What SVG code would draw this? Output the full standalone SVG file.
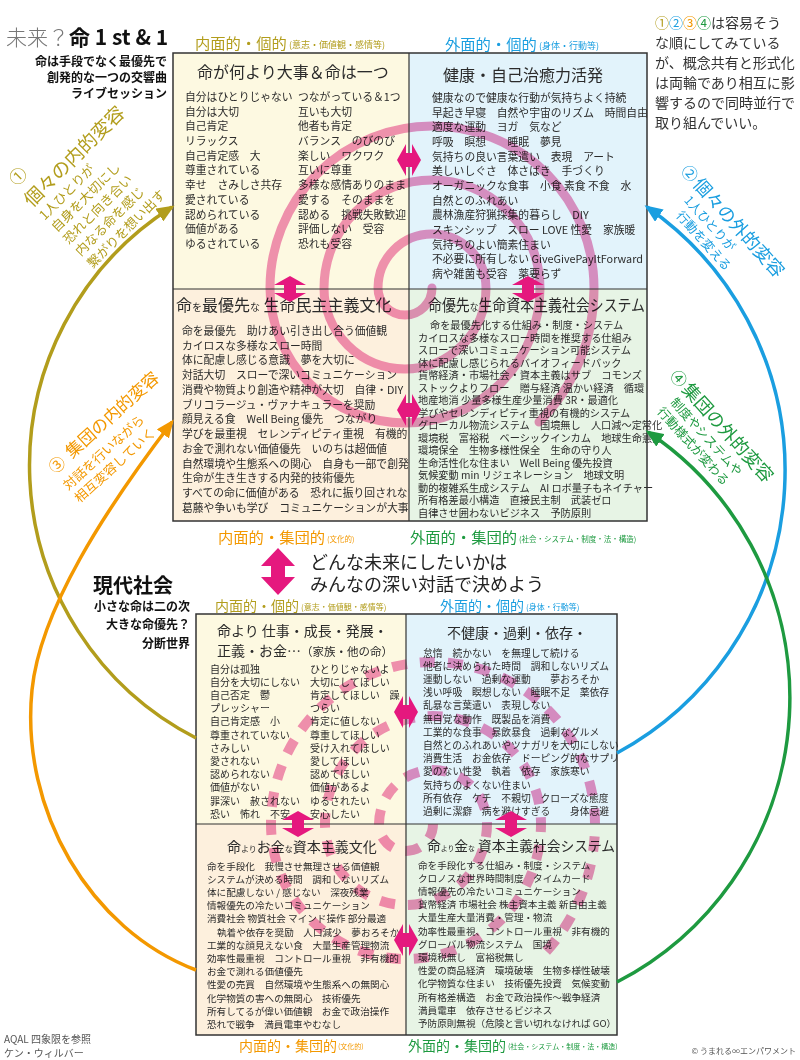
<svg xmlns="http://www.w3.org/2000/svg" width="800" height="1060" viewBox="0 0 800 1060">
<style>
text{font-family:"Noto Sans CJK JP","Noto Sans",sans-serif;}
.b{fill:#2b2b2b}
.olive{fill:#b29d1c}
.blue{fill:#1a9ee0}
.orange{fill:#f39800}
.green{fill:#1e9a40}
.gray{fill:#555}
.grid{fill:none;stroke:#333;stroke-width:1.5}
.div{stroke:#333;stroke-width:1.2}
.c1{fill:#fdf9e1}.c2{fill:#e2f3fb}.c3{fill:#fdf0dd}.c4{fill:#e7f4e5}
.spS{fill:none;stroke:#ee82b8;stroke-width:9;stroke-linecap:round;mix-blend-mode:multiply;opacity:.85}
.spD{fill:none;stroke:#ef86bb;stroke-width:10;stroke-dasharray:15 13;mix-blend-mode:multiply;opacity:.9}
.pk{fill:#e5187e}
.ax{font-size:15.3px}
.axs{font-size:14px}
</style>
<defs>
<path id="sp" d="M432,288 A27,27 0 0 1 378,288 A54,54 0 0 1 486,288 A81,81 0 0 1 324,288 A108,108 0 0 1 540,288 A135,135 0 0 1 270,288 A162,162 0 0 1 594,288 A189,189 0 0 1 539,422"/>
<polygon id="dh" points="-12,0 -3,-16 -3,-7 3,-7 3,-16 12,0 3,16 3,7 -3,7 -3,16"/>
<polygon id="dv" points="0,-13 16,-4 6,-4 6,4 16,4 0,13 -16,4 -6,4 -6,-4 -16,-4"/>
<marker id="mO" viewBox="0 0 18 15" refX="15" refY="7.5" markerWidth="18" markerHeight="15" markerUnits="userSpaceOnUse" orient="auto"><path d="M0,0L18,7.5L0,15z" fill="#b29d1c"/></marker>
<marker id="mR" viewBox="0 0 18 15" refX="15" refY="7.5" markerWidth="18" markerHeight="15" markerUnits="userSpaceOnUse" orient="auto"><path d="M0,0L18,7.5L0,15z" fill="#f39800"/></marker>
<marker id="mB" viewBox="0 0 18 15" refX="15" refY="7.5" markerWidth="18" markerHeight="15" markerUnits="userSpaceOnUse" orient="auto"><path d="M0,0L18,7.5L0,15z" fill="#1a9ee0"/></marker>
<marker id="mG" viewBox="0 0 18 15" refX="15" refY="7.5" markerWidth="18" markerHeight="15" markerUnits="userSpaceOnUse" orient="auto"><path d="M0,0L18,7.5L0,15z" fill="#1e9a40"/></marker>
</defs>
<rect width="800" height="1060" fill="#fff"/>

<!-- Title block -->
<g id="title">
<text x="6" y="45" font-size="21"><tspan fill="#777" font-weight="300">未来？</tspan><tspan fill="#111" font-weight="700">命 1 st &amp; 1</tspan></text>
<text text-anchor="end" font-size="12" font-weight="700" fill="#111"><tspan x="167" y="66">命は手段でなく最優先で</tspan><tspan x="167" y="82">創発的な一つの交響曲</tspan><tspan x="167" y="98">ライブセッション</tspan></text>
</g>

<g id="note" font-size="14" fill="#333">
<text x="655" y="28"><tspan class="olive">①</tspan><tspan class="blue">②</tspan><tspan class="orange">③</tspan><tspan class="green">④</tspan><tspan fill="#333">は容易そう</tspan></text>
<text x="655" y="48">な順にしてみている</text>
<text x="655" y="68">が、概念共有と形式化</text>
<text x="655" y="88">は両輪であり相互に影</text>
<text x="655" y="108">響するので同時並行で</text>
<text x="655" y="128">取り組んでいい。</text>
</g>

<!-- Axis labels top -->
<g id="labels-top">
<text x="195" y="49" class="olive ax">内面的・個的</text><text x="289" y="48" class="olive" font-size="9">(意志・価値観・感情等)</text>
<text x="445" y="50" class="blue ax">外面的・個的</text><text x="539" y="49" class="blue" font-size="9">(身体・行動等)</text>
<text x="218" y="543" class="orange ax">内面的・集団的</text><text x="327" y="542" class="orange" font-size="7.5">(文化的)</text>
<text x="410" y="543" class="green ax">外面的・集団的</text><text x="519" y="542" class="green" font-size="7.5">(社会・システム・制度・法・構造)</text>
</g>

<!-- Top grid quadrants -->
<g id="q-top-tl">
<rect x="173" y="53" width="236" height="236" class="c1"/>
<text x="197" y="78" font-size="16" class="b">命が何より大事＆命は一つ</text>
<text class="b" font-size="10.8"><tspan x="185" y="101">自分はひとりじゃない</tspan><tspan x="185" y="116">自分は大切</tspan><tspan x="185" y="130">自己肯定</tspan><tspan x="185" y="145">リラックス</tspan><tspan x="185" y="160">自己肯定感　大</tspan><tspan x="185" y="174">尊重されている</tspan><tspan x="185" y="189">幸せ　さみしさ共存</tspan><tspan x="185" y="204">愛されている</tspan><tspan x="185" y="219">認められている</tspan><tspan x="185" y="233">価値がある</tspan><tspan x="185" y="248">ゆるされている</tspan></text>
<text class="b" font-size="10.8"><tspan x="298" y="101">つながっている＆1つ</tspan><tspan x="298" y="116">互いも大切</tspan><tspan x="298" y="130">他者も肯定</tspan><tspan x="298" y="145">バランス　のびのび</tspan><tspan x="298" y="160">楽しい　ワクワク</tspan><tspan x="298" y="174">互いに尊重</tspan><tspan x="298" y="189">多様な感情ありのまま</tspan><tspan x="298" y="204">愛する　そのままを</tspan><tspan x="298" y="219">認める　挑戦失敗歓迎</tspan><tspan x="298" y="233">評価しない　受容</tspan><tspan x="298" y="248">恐れも受容</tspan></text>
</g>

<g id="q-top-tr">
<rect x="409" y="53" width="238" height="236" class="c2"/>
<text x="443" y="81" font-size="16" class="b">健康・自己治癒力活発</text>
<text class="b" font-size="10.8"><tspan x="432" y="102">健康なので健康な行動が気持ちよく持続</tspan><tspan x="432" y="117">早起き早寝　自然や宇宙のリズム　時間自由</tspan><tspan x="432" y="131">適度な運動　ヨガ　気など</tspan><tspan x="432" y="146">呼吸　瞑想　　睡眠　夢見</tspan><tspan x="432" y="161">気持ちの良い言葉遣い　表現　アート</tspan><tspan x="432" y="175">美しいしぐさ　体さばき　手づくり</tspan><tspan x="432" y="190">オーガニックな食事　小食 素食 不食　水</tspan><tspan x="432" y="205">自然とのふれあい</tspan><tspan x="432" y="219">農林漁産狩猟採集的暮らし　DIY</tspan><tspan x="432" y="234">スキンシップ　スロー LOVE 性愛　家族暖</tspan><tspan x="432" y="249">気持ちのよい簡素住まい</tspan><tspan x="432" y="263">不必要に所有しない GiveGivePayItForward</tspan><tspan x="432" y="278">病や雑菌も受容　薬要らず</tspan></text>
</g>

<g id="q-top-bl">
<rect x="173" y="289" width="236" height="232" class="c3"/>
<text x="176" y="311" class="b"><tspan font-size="16">命</tspan><tspan font-size="10">を</tspan><tspan font-size="16">最優先</tspan><tspan font-size="10">な</tspan><tspan font-size="16"> 生命民主主義文化</tspan></text>
<text class="b" font-size="10.8"><tspan x="182" y="335">命を最優先　助けあい引き出し合う価値観</tspan><tspan x="182" y="350">カイロスな多様なスロー時間</tspan><tspan x="182" y="364">体に配慮し感じる意識　夢を大切に</tspan><tspan x="182" y="379">対話大切　スローで深いコミュニケーション</tspan><tspan x="182" y="394">消費や物質より創造や精神が大切　自律・DIY</tspan><tspan x="182" y="409">ブリコラージュ・ヴァナキュラーを奨励</tspan><tspan x="182" y="423">顔見える食　Well Being 優先　つながり</tspan><tspan x="182" y="438">学びを最重視　セレンディピティ重視　有機的</tspan><tspan x="182" y="453">お金で測れない価値優先　いのちは超価値</tspan><tspan x="182" y="468">自然環境や生態系への関心　自身も一部で創発</tspan><tspan x="182" y="482">生命が生き生きする内発的技術優先</tspan><tspan x="182" y="497">すべての命に価値がある　恐れに振り回されない</tspan><tspan x="182" y="512">葛藤や争いも学び　コミュニケーションが大事</tspan></text>
</g>

<g id="q-top-br">
<rect x="409" y="289" width="238" height="232" class="c4"/>
<text x="428" y="311" class="b" textLength="217" lengthAdjust="spacingAndGlyphs"><tspan font-size="16">命優先</tspan><tspan font-size="10">な</tspan><tspan font-size="16">生命資本主義社会システム</tspan></text>
<text class="b" font-size="10.2"><tspan x="430" y="329">命を最優先化する仕組み・制度・システム</tspan><tspan x="418" y="342">カイロスな多様なスロー時間を推奨する仕組み</tspan><tspan x="418" y="354">スローで深いコミュニケーション可能システム</tspan><tspan x="418" y="367">体に配慮し感じられるバイオフィードバック</tspan><tspan x="418" y="379">貨幣経済・市場社会・資本主義はサブ　コモンズ</tspan><tspan x="418" y="392">ストックよりフロー　贈与経済 温かい経済　循環</tspan><tspan x="418" y="404">地産地消 少量多様生産少量消費 3R・最適化</tspan><tspan x="418" y="417">学びやセレンディピティ重視の有機的システム</tspan><tspan x="418" y="429">グローカル物流システム　国境無し　人口減〜定常化</tspan><tspan x="418" y="442">環境税　富裕税　ベーシックインカム　地球生命憲法</tspan><tspan x="418" y="454">環境保全　生物多様性保全　生命の守り人</tspan><tspan x="418" y="467">生命活性化な住まい　Well Being 優先投資</tspan><tspan x="418" y="479">気候変動 min リジェネレーション　地球文明</tspan><tspan x="418" y="492">動的複雑系生成システム　AI ロボ量子もネイチャー</tspan><tspan x="418" y="504">所有格差最小構造　直接民主制　武装ゼロ</tspan><tspan x="418" y="517">自律させ囲わないビジネス　予防原則</tspan></text>
</g>

<g id="spiral-top"><use href="#sp" class="spS"/></g>
<g id="grid-top"><rect x="173" y="53" width="474" height="468" class="grid"/><line x1="409" y1="53" x2="409" y2="521" class="div"/><line x1="173" y1="289" x2="647" y2="289" class="div"/></g>

<!-- Middle -->
<g id="middle-text">
<text x="310" y="569" font-size="18" fill="#222">どんな未来にしたいかは</text>
<text x="310" y="591" font-size="18" fill="#222">みんなの深い対話で決めよう</text>
</g>
<g id="modern">
<text x="173" y="593" text-anchor="end" font-size="20" font-weight="700" fill="#111">現代社会</text>
<text text-anchor="end" font-size="12" font-weight="700" fill="#111"><tspan x="190" y="611">小さな命は二の次</tspan><tspan x="190" y="629">大きな命優先？</tspan><tspan x="190" y="648">分断世界</tspan></text>
</g>

<!-- Axis labels bottom -->
<g id="labels-bottom">
<text x="215" y="611" class="olive axs">内面的・個的</text><text x="301" y="610" class="olive" font-size="8">(意志・価値観・感情等)</text>
<text x="440" y="611" class="blue axs">外面的・個的</text><text x="526" y="610" class="blue" font-size="8">(身体・行動等)</text>
<text x="239" y="1051" class="orange axs">内面的・集団的</text><text x="338" y="1049" class="orange" font-size="7">(文化的)</text>
<text x="408" y="1051" class="green axs">外面的・集団的</text><text x="508" y="1049" class="green" font-size="7">(社会・システム・制度・法・構造)</text>
</g>

<!-- Lower grid quadrants -->
<g id="q-low-tl">
<rect x="196" y="614" width="210" height="210" class="c1"/>
<text x="217" y="636" font-size="14" class="b">命より 仕事・成長・発展・</text>
<text x="217" y="656" class="b"><tspan font-size="14">正義・お金…</tspan><tspan font-size="11.5">（家族・他の命）</tspan></text>
<text class="b" font-size="10"><tspan x="210" y="672.5">自分は孤独</tspan><tspan x="210" y="685.7">自分を大切にしない</tspan><tspan x="210" y="698.9">自己否定　鬱</tspan><tspan x="210" y="712.1">プレッシャー</tspan><tspan x="210" y="725.3">自己肯定感　小</tspan><tspan x="210" y="738.5">尊重されていない</tspan><tspan x="210" y="751.7">さみしい</tspan><tspan x="210" y="764.9">愛されない</tspan><tspan x="210" y="778.1">認められない</tspan><tspan x="210" y="791.3">価値がない</tspan><tspan x="210" y="804.5">罪深い　赦されない</tspan><tspan x="210" y="817.7">恐い　怖れ　不安</tspan></text>
<text class="b" font-size="10"><tspan x="310" y="672.5">ひとりじゃないよ</tspan><tspan x="310" y="685.7">大切にしてほしい</tspan><tspan x="310" y="698.9">肯定してほしい　躁</tspan><tspan x="310" y="712.1">つらい</tspan><tspan x="310" y="725.3">肯定に値しない</tspan><tspan x="310" y="738.5">尊重してほしい</tspan><tspan x="310" y="751.7">受け入れてほしい</tspan><tspan x="310" y="764.9">愛してほしい</tspan><tspan x="310" y="778.1">認めてほしい</tspan><tspan x="310" y="791.3">価値があるよ</tspan><tspan x="310" y="804.5">ゆるされたい</tspan><tspan x="310" y="817.7">安心したい</tspan></text>
</g>

<g id="q-low-tr">
<rect x="406" y="614" width="211" height="210" class="c2"/>
<text x="447" y="638" font-size="14" class="b">不健康・過剰・依存・</text>
<text class="b" font-size="9.8"><tspan x="423" y="656.5">怠惰　続かない　を無理して続ける</tspan><tspan x="423" y="669.7">他者に決められた時間　調和しないリズム</tspan><tspan x="423" y="682.9">運動しない　過剰な運動　　夢おろそか</tspan><tspan x="423" y="696.1">浅い呼吸　瞑想しない　睡眠不足　薬依存</tspan><tspan x="423" y="709.3">乱暴な言葉遣い　表現しない</tspan><tspan x="423" y="722.5">無自覚な動作　既製品を消費</tspan><tspan x="423" y="735.7">工業的な食事　暴飲暴食　過剰なグルメ</tspan><tspan x="423" y="748.9">自然とのふれあいやツナガリを大切にしない</tspan><tspan x="423" y="762.1">消費生活　お金依存　ドーピング的なサプリ</tspan><tspan x="423" y="775.3">愛のない性愛　執着　依存　家族寒い</tspan><tspan x="423" y="788.5">気持ちのよくない住まい</tspan><tspan x="423" y="801.7">所有依存　ケチ　不親切　クローズな態度</tspan><tspan x="423" y="814.9">過剰に潔癖　病を避けすぎる　　身体忌避</tspan></text>
</g>

<g id="q-low-bl">
<rect x="196" y="824" width="210" height="211" class="c3"/>
<text x="227" y="852" class="b"><tspan font-size="14">命</tspan><tspan font-size="8">より</tspan><tspan font-size="14">お金</tspan><tspan font-size="8">な</tspan><tspan font-size="14">資本主義文化</tspan></text>
<text class="b" font-size="9.6"><tspan x="207" y="869.5">命を手段化　我慢させ無理させる価値観</tspan><tspan x="207" y="882.7">システムが決める時間　調和しないリズム</tspan><tspan x="207" y="895.9">体に配慮しない / 感じない　深夜残業</tspan><tspan x="207" y="909.1">情報優先の冷たいコミュニケーション</tspan><tspan x="207" y="922.3">消費社会 物質社会 マインド操作 部分最適</tspan><tspan x="217" y="935.5">執着や依存を奨励　人口減少　夢おろそか</tspan><tspan x="207" y="948.7">工業的な顔見えない食　大量生産管理物流</tspan><tspan x="207" y="961.9">効率性最重視　コントロール重視　非有機的</tspan><tspan x="207" y="975.1">お金で測れる価値優先</tspan><tspan x="207" y="988.3">性愛の売買　自然環境や生態系への無関心</tspan><tspan x="207" y="1001.5">化学物質の害への無関心　技術優先</tspan><tspan x="207" y="1014.7">所有してるが偉い価値観　お金で政治操作</tspan><tspan x="207" y="1027.9">恐れで戦争　満員電車やむなし</tspan></text>
</g>

<g id="q-low-br">
<rect x="406" y="824" width="211" height="211" class="c4"/>
<text x="427" y="851" class="b" textLength="188" lengthAdjust="spacingAndGlyphs"><tspan font-size="14">命</tspan><tspan font-size="7">より</tspan><tspan font-size="14">金</tspan><tspan font-size="7">な</tspan><tspan font-size="14"> 資本主義社会システム</tspan></text>
<text class="b" font-size="9.6"><tspan x="418" y="868.5">命を手段化する仕組み・制度・システム</tspan><tspan x="418" y="881.7">クロノスな世界時間制度　タイムカード</tspan><tspan x="418" y="894.9">情報優先の冷たいコミュニケーション</tspan><tspan x="418" y="908.1">貨幣経済 市場社会 株主資本主義 新自由主義</tspan><tspan x="418" y="921.3">大量生産大量消費・管理・物流</tspan><tspan x="418" y="934.5">効率性最重視、コントロール重視　非有機的</tspan><tspan x="418" y="947.7">グローバル物流システム　国境</tspan><tspan x="418" y="960.9">環境税無し　富裕税無し</tspan><tspan x="418" y="974.1">性愛の商品経済　環境破壊　生物多様性破壊</tspan><tspan x="418" y="987.3">化学物質な住まい　技術優先投資　気候変動</tspan><tspan x="418" y="1000.5">所有格差構造　お金で政治操作〜戦争経済</tspan><tspan x="418" y="1013.7">満員電車　依存させるビジネス</tspan><tspan x="418" y="1026.9">予防原則無視（危険と言い切れなければ GO）</tspan></text>
</g>

<g id="spiral-bottom"><use href="#sp" class="spD" transform="translate(1,536)"/></g>
<g id="grid-bottom"><rect x="196" y="614" width="421" height="421" class="grid"/><line x1="406" y1="614" x2="406" y2="1035" class="div"/><line x1="196" y1="824" x2="617" y2="824" class="div"/></g>

<!-- Side labels -->
<g id="n-olive" class="olive" transform="translate(32,208) rotate(-45)">
<text x="4" y="-26" font-size="17">①</text>
<text x="0" y="0" font-size="19">個々の内的変容</text>
<text font-size="13"><tspan x="0" y="18">1人ひとりが</tspan><tspan x="0" y="35">自身を大切にし</tspan><tspan x="0" y="52">恐れと向き合い</tspan><tspan x="0" y="69">内なる命を感じ</tspan><tspan x="0" y="86">繋がりを想い出す</tspan></text>
</g>
<g id="n-orange" class="orange" transform="translate(72,459) rotate(-42)">
<text x="-23" y="0" font-size="16">③</text>
<text x="0" y="0" font-size="17">集団の内的変容</text>
<text font-size="13"><tspan x="-24" y="21">対話を行いながら</tspan><tspan x="-24" y="38">相互変容していく</tspan></text>
</g>
<g id="n-blue" class="blue" transform="translate(692,185) rotate(48)">
<text x="-18" y="0" font-size="16">②</text>
<text x="0" y="0" font-size="18">個々の外的変容</text>
<text font-size="12.5"><tspan x="6" y="17">1人ひとりが</tspan><tspan x="12" y="33">行動を変える</tspan></text>
</g>
<g id="n-green" class="green" transform="translate(681,390) rotate(48)">
<text x="-18" y="0" font-size="16">④</text>
<text x="0" y="0" font-size="18">集団の外的変容</text>
<text font-size="12.5"><tspan x="2" y="17">制度やシステムや</tspan><tspan x="0" y="33">行動様式が変わる</tspan></text>
</g>

<!-- Connectors -->
<g id="connectors">
<g fill="none" stroke-width="3.5">
<path d="M196,738 A306,306 0 0 1 172,207" stroke="#b29d1c" marker-end="url(#mO)"/>
<path d="M196,970 C90,930 20,810 32,690 C40,610 105,510 172,422" stroke="#f39800" marker-end="url(#mR)"/>
<path d="M617,753 A321,321 0 0 0 647,207" stroke="#1a9ee0" marker-end="url(#mB)"/>
<path d="M617,982 A320,320 0 0 0 648,432" stroke="#1e9a40" marker-end="url(#mG)"/>
</g>
<g class="pk">
<use href="#dh" x="409" y="160"/>
<use href="#dh" x="409" y="410"/>
<use href="#dv" x="290" y="289"/>
<use href="#dv" x="528" y="289"/>
<use href="#dh" x="406" y="712"/>
<use href="#dh" x="406" y="940"/>
<use href="#dv" x="298" y="824"/>
<use href="#dv" x="511" y="824"/>
<polygon points="278,548 295,566 285,566 285,577 295,577 278,595 261,577 271,577 271,566 261,566"/>
</g>
</g>

<g id="footer">
<text x="4" y="1043" font-size="10" class="gray">AQAL 四象限を参照</text>
<text x="4" y="1057" font-size="10" class="gray">ケン・ウィルバー</text>
<text x="796" y="1054" font-size="8" class="gray" text-anchor="end">© うまれる∞エンパワメント</text>
</g>
</svg>
